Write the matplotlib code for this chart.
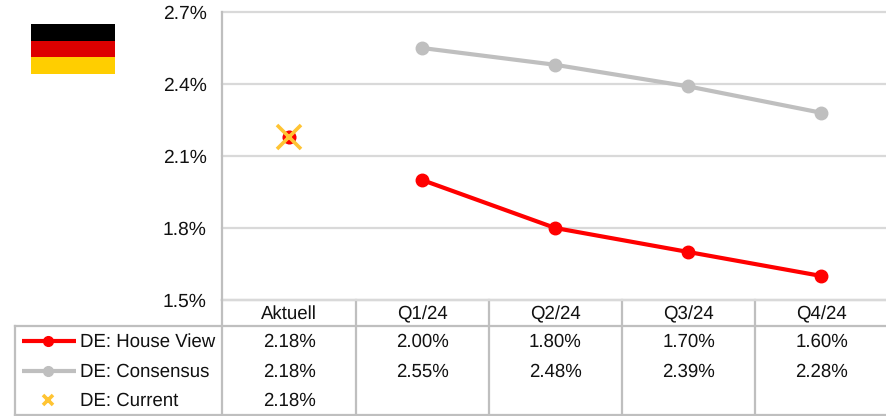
import matplotlib
matplotlib.use("Agg")
import matplotlib.pyplot as plt

plt.rcParams['font.family'] = ['Liberation Sans', 'DejaVu Sans']
plt.rcParams['text.hinting'] = 'none'

categories = ["Aktuell", "Q1/24", "Q2/24", "Q3/24", "Q4/24"]
house_view = [2.18, 2.00, 1.80, 1.70, 1.60]
consensus = [2.18, 2.55, 2.48, 2.39, 2.28]
current = [2.18]
yticks = [1.5, 1.8, 2.1, 2.4, 2.7]
series_names = ["DE: House View", "DE: Consensus", "DE: Current"]

W, H = 887, 416
ROUGE = "#ff0000"
GRIS = "#bfbfbf"
JAUNE = "#ffc433"
TEXTE = "#111111"
FS = 13.4

fig = plt.figure(figsize=(W / 100, H / 100), dpi=100)

# calque en pixels pour le tableau et le drapeau
bg = fig.add_axes([0, 0, 1, 1])
bg.set_xlim(0, W)
bg.set_ylim(H, 0)
bg.axis("off")

# graphique
left, right, top, bottom = 222.5, 888, 12, 300
ax = fig.add_axes([left / W, 1 - bottom / H, (right - left) / W, (bottom - top) / H])
ax.patch.set_alpha(0)
ax.set_xlim(-0.5, 4.5)
ax.set_ylim(1.5, 2.7)
ax.set_yticks(yticks)
ax.set_yticklabels(["%.1f%%" % v for v in yticks], fontsize=13.9, color=TEXTE)
ax.set_xticks([])
ax.tick_params(axis="y", length=0, pad=11.5)
ax.grid(axis="y", color="#d9d9d9", lw=1.6, clip_on=False)
ax.set_axisbelow(True)
for s in ["top", "right", "bottom"]:
    ax.spines[s].set_visible(False)
ax.spines["left"].set_color(GRIS)
ax.spines["left"].set_linewidth(1.6)

x = list(range(len(categories)))
ax.plot(x[1:], consensus[1:], color=GRIS, lw=3, marker="o", ms=9, clip_on=False)
ax.plot(x[1:], house_view[1:], color=ROUGE, lw=3, marker="o", ms=9, clip_on=False)
ax.plot(x[0], consensus[0], color=GRIS, marker="o", ms=9)
ax.plot(x[0], house_view[0], color=ROUGE, marker="o", ms=9)
ax.plot(x[0], current[0], color=JAUNE, marker="x", ms=17, mew=2.6, ls="none")

# drapeau
bandes = ["#000000", "#dd0000", "#ffce00"]
for i in range(3):
    bg.add_patch(plt.Rectangle((31, 24 + i * 16.67), 84, 16.67, color=bandes[i], lw=0))

# lignes du tableau
col_x = [222.5, 356, 489, 622, 755, 888]
lw_t = 1.6
bg.plot([222.5, 888], [300, 300], color=GRIS, lw=lw_t)
bg.plot([15, 888], [325.5, 325.5], color=GRIS, lw=lw_t)
bg.plot([15, 888], [415, 415], color=GRIS, lw=lw_t)
bg.plot([15, 15], [325.5, 415], color=GRIS, lw=lw_t)
for cx in col_x:
    bg.plot([cx, cx], [300, 415], color=GRIS, lw=lw_t)

# contenu du tableau
row_y = [342, 372, 401]
centers = [289, 422, 555, 688.5, 821.5]
for i in range(len(categories)):
    bg.text(centers[i], 314, categories[i], ha="center", va="center", fontsize=FS, color=TEXTE)
    bg.text(centers[i], row_y[0], "%.2f%%" % house_view[i], ha="center", va="center", fontsize=FS, color=TEXTE)
    bg.text(centers[i], row_y[1], "%.2f%%" % consensus[i], ha="center", va="center", fontsize=FS, color=TEXTE)
bg.text(centers[0], row_y[2], "%.2f%%" % current[0], ha="center", va="center", fontsize=FS, color=TEXTE)

# légende
for i in range(3):
    bg.text(80, row_y[i], series_names[i], ha="left", va="center", fontsize=FS, color=TEXTE)
bg.plot([22, 76], [340.5, 340.5], color=ROUGE, lw=3, solid_capstyle="butt")
bg.plot([48.5], [340.5], color=ROUGE, marker="o", ms=7)
bg.plot([22, 76], [370.5, 370.5], color=GRIS, lw=3, solid_capstyle="butt")
bg.plot([48.5], [370.5], color=GRIS, marker="o", ms=7)
bg.plot([48.5], [400], color=JAUNE, marker="x", ms=7, mew=2.6)

fig.savefig("out.png", dpi=100)
